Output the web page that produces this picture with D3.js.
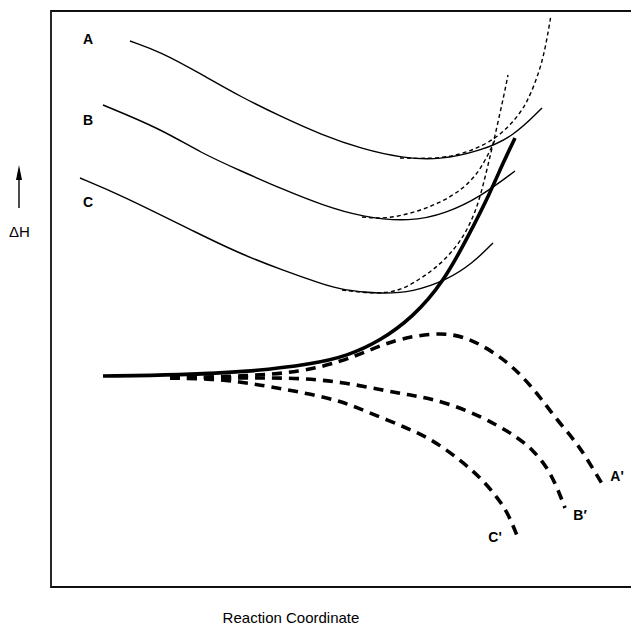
<!doctype html>
<html>
<head>
<script src="https://d3js.org/d3.v7.min.js"></script>
<style>
  body { margin: 0; background: #fff; }
  svg { display: block; }
</style>
</head>
<body>
<svg id="chart" width="631" height="625"></svg>
<script>
// reaction coordinate (x) vs enthalpy (y)
var curveA = [[79,546],[110,535],[150,513],[190,490],[231,470],[271,452],[311,438],[351,429],[389,427],[429,436],[462,450],[491,479]]
var curveB = [[52,482],[110,458],[150,434],[190,416],[231,398],[271,382],[311,370],[359,365],[396,374],[429,390],[464,416]]
var curveC = [[29,409],[70,392],[150,352],[190,333],[231,317],[271,303],[291,297],[329,293],[362,295],[396,307],[422,324],[442,344]]

var dotA = [[349,429],[389,428],[419,435],[446,449],[462,465],[476,483],[489,517],[495,542],[500,572]]
var dotB = [[311,370],[334,368],[362,374],[389,384],[412,398],[427,414],[437,432],[444,447]]
var dotC = [[291,297],[324,293],[349,296],[369,308],[386,320],[402,336],[414,353],[424,374],[431,397],[437,422],[443,447],[449,474],[453,492],[457,512]]

var mainPath = [[52,211],[129,212],[196,215],[262,223],[296,231],[329,246],[362,270],[392,304],[419,354],[439,394],[452,424],[464,449]]

var pathA2 = [[119,209],[199,211],[249,215],[289,225],[319,237],[349,249],[392,255],[416,249],[436,239],[456,225],[472,210],[489,190],[506,167],[526,144],[541,120],[553,100]]
var pathB2 = [[119,209],[169,209],[209,209],[249,209],[291,205],[331,197],[359,192],[382,188],[416,177],[446,162],[466,150],[482,137],[496,120],[506,100],[514,79]]
var pathC2 = [[119,209],[164,208],[189,205],[209,202],[232,198],[259,193],[289,186],[312,177],[356,159],[382,147],[409,127],[429,110],[446,90],[457,74],[467,49]]

var labels = ["A", "B", "C", "A'", "B\u2032", "C'"]
var labelPos = [[37,548],[37,467],[37,385],[566,111],[529,72],[444,50]]

var svg = d3.select("#chart")
var x = d3.scaleLinear().domain([0, 580]).range([51, 631])
var y = d3.scaleLinear().domain([0, 576]).range([587, 11])

var line = d3.line()
    .x(function(d) { return x(d[0]) })
    .y(function(d) { return y(d[1]) })
    .curve(d3.curveBasis)

// frame (right side runs off the page)
svg.append("path")
    .attr("d", "M" + x(590) + "," + y(576) + "H" + x(0) + "V" + y(0) + "H" + x(590))
    .attr("fill", "none").attr("stroke", "#111").attr("stroke-width", 1.8)

// thick dashed product curves
;[pathA2, pathB2, pathC2].forEach(function(p) {
    svg.append("path").attr("d", line(p))
        .attr("fill", "none").attr("stroke", "#000")
        .attr("stroke-width", 3.6).attr("stroke-dasharray", "10,7")
})

// thin solid reactant curves
;[curveA, curveB, curveC].forEach(function(p) {
    svg.append("path").attr("d", line(p))
        .attr("fill", "none").attr("stroke", "#000").attr("stroke-width", 1.4)
})

// thin dotted curves
;[dotA, dotB, dotC].forEach(function(p) {
    svg.append("path").attr("d", line(p))
        .attr("fill", "none").attr("stroke", "#000")
        .attr("stroke-width", 1.4).attr("stroke-dasharray", "4,3")
})

// thick solid path
svg.append("path").attr("d", line(mainPath))
    .attr("fill", "none").attr("stroke", "#000").attr("stroke-width", 3.6)

// curve labels
svg.selectAll(".lab").data(labels).enter().append("text")
    .attr("class", "lab")
    .attr("x", function(d, i) { return x(labelPos[i][0]) })
    .attr("y", function(d, i) { return y(labelPos[i][1]) })
    .attr("text-anchor", "middle").attr("dominant-baseline", "central")
    .attr("font-family", "Liberation Sans, Arial, sans-serif")
    .attr("font-weight", "bold").attr("font-size", 14)
    .text(function(d) { return d })

// y axis arrow and label
svg.append("line").attr("x1", 19).attr("x2", 19).attr("y1", 176).attr("y2", 208)
    .attr("stroke", "#000").attr("stroke-width", 1.4)
svg.append("path").attr("d", "M19,165L22,180L16,180Z").attr("fill", "#000")
svg.append("text").attr("x", 19.5).attr("y", 237)
    .attr("text-anchor", "middle")
    .attr("font-family", "Liberation Sans, Arial, sans-serif").attr("font-size", 15)
    .text("\u0394H")

svg.append("text").attr("x", 291).attr("y", 623)
    .attr("text-anchor", "middle")
    .attr("font-family", "Liberation Sans, Arial, sans-serif").attr("font-size", 15)
    .text("Reaction Coordinate")
</script>
</body>
</html>
